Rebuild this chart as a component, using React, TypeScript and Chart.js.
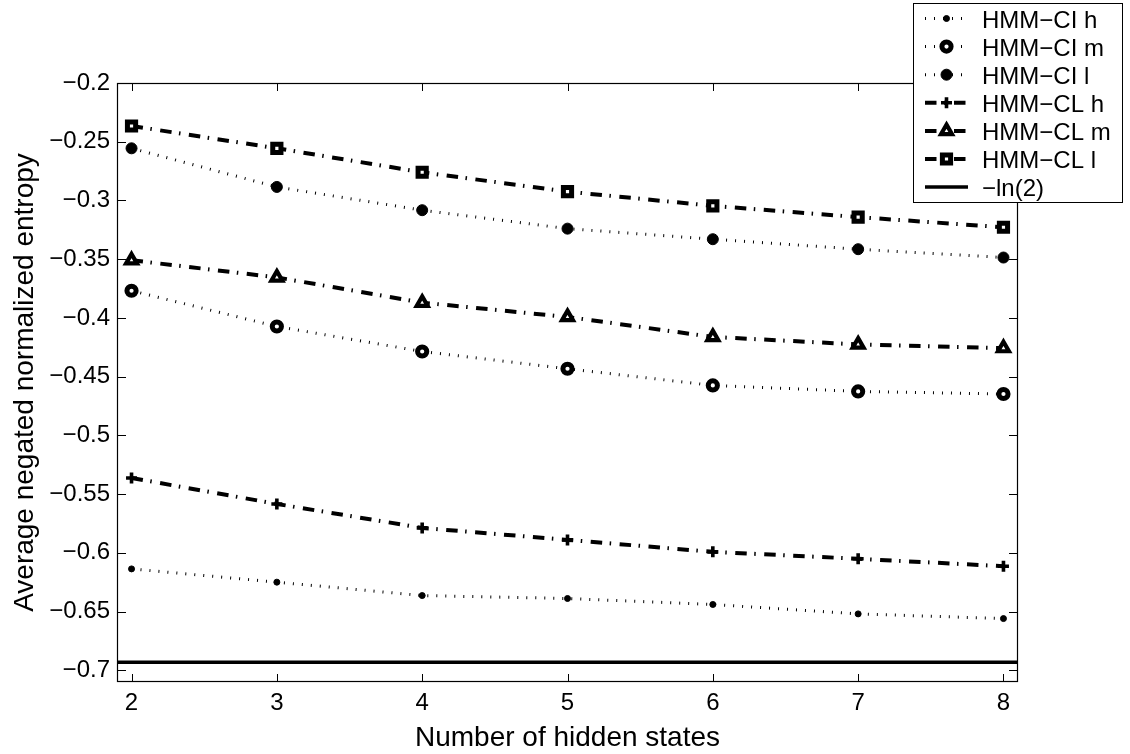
import React, { useEffect, useRef } from 'react';
import { Chart, registerables, PointElement } from 'chart.js';

Chart.register(...registerables);

// ---- data ----
const xStates = [2, 3, 4, 5, 6, 7, 8];
const ciH = [-0.6137, -0.625, -0.6364, -0.6389, -0.644, -0.652, -0.656];
const ciM = [-0.3769, -0.4073, -0.4286, -0.4433, -0.4575, -0.4626, -0.4648];
const ciL = [-0.2556, -0.2885, -0.3083, -0.324, -0.333, -0.3415, -0.3486];
const clH = [-0.5363, -0.5584, -0.5788, -0.589, -0.5992, -0.6051, -0.6114];
const clM = [-0.3509, -0.3655, -0.387, -0.3992, -0.4162, -0.4226, -0.4257];
const clL = [-0.2366, -0.2556, -0.276, -0.2925, -0.3046, -0.3142, -0.3228];
const lnTwo = -0.6931;
const xTicks = [2, 3, 4, 5, 6, 7, 8];
const yTicks = [-0.7, -0.65, -0.6, -0.55, -0.5, -0.45, -0.4, -0.35, -0.3, -0.25, -0.2];
const xRange = [1.9, 8.1];
const yRange = [-0.71, -0.2];
const seriesLabels = ['HMM\u2212CI h', 'HMM\u2212CI m', 'HMM\u2212CI l', 'HMM\u2212CL h', 'HMM\u2212CL m', 'HMM\u2212CL l', '\u2212ln(2)'];

const FONT = '"Liberation Sans", Arial, Helvetica, sans-serif';
const DOT = [1, 8];
const DASHDOT = [11.5, 7.5, 1.5, 8.5];

const toXY = (ys: number[]) => xStates.map((x, i) => ({ x, y: ys[i] }));

const fmt = (v: number) => String(Number(v.toFixed(2))).replace('-', '\u2212');

const framePlugin = {
  id: 'frame',
  afterDatasetsDraw(chart: any) {
    const { ctx, chartArea: a, scales } = chart;
    ctx.save();
    ctx.strokeStyle = '#000';
    ctx.lineWidth = 1.2;
    ctx.setLineDash([]);
    ctx.strokeRect(a.left + 0.5, a.top + 0.5, a.right - a.left - 1, a.bottom - a.top - 1);
    ctx.lineWidth = 1;
    ctx.beginPath();
    for (const t of scales.x.ticks) {
      const px = Math.round(scales.x.getPixelForValue(t.value)) + 0.5;
      ctx.moveTo(px, a.bottom); ctx.lineTo(px, a.bottom - 8);
      ctx.moveTo(px, a.top); ctx.lineTo(px, a.top + 8);
    }
    for (const t of scales.y.ticks) {
      const py = Math.round(scales.y.getPixelForValue(t.value)) + 0.5;
      ctx.moveTo(a.left, py); ctx.lineTo(a.left + 9, py);
      ctx.moveTo(a.right, py); ctx.lineTo(a.right - 9, py);
    }
    ctx.stroke();
    ctx.restore();
  },
};

const legendPlugin = {
  id: 'matlabLegend',
  afterDraw(chart: any) {
    const { ctx } = chart;
    const bx = 913.5, by = 3.5, bw = 209, bh = 199;
    ctx.save();
    ctx.fillStyle = '#fff';
    ctx.fillRect(bx, by, bw, bh);
    ctx.strokeStyle = '#000';
    ctx.lineWidth = 1;
    ctx.setLineDash([]);
    ctx.strokeRect(bx, by, bw, bh);
    chart.data.datasets.forEach((ds: any, i: number) => {
      const yc = 18.5 + 28.1 * i;
      ctx.save();
      ctx.strokeStyle = '#000';
      ctx.lineWidth = ds.borderWidth;
      ctx.setLineDash(ds.borderDash || []);
      ctx.beginPath();
      ctx.moveTo(925, yc);
      ctx.lineTo(968, yc);
      ctx.stroke();
      ctx.restore();
      if (ds.pointRadius > 0) {
        const pt: any = new (PointElement as any)({
          x: 946.5,
          y: yc,
          options: {
            pointStyle: ds.pointStyle,
            radius: ds.pointRadius,
            rotation: 0,
            borderWidth: ds.pointBorderWidth,
            borderColor: '#000',
            backgroundColor: ds.pointBackgroundColor,
          },
        });
        ctx.save();
        ctx.setLineDash([]);
        pt.draw(ctx, { left: 0, top: 0, right: 1130, bottom: 754 });
        ctx.restore();
      }
      ctx.fillStyle = '#000';
      ctx.font = `24px ${FONT}`;
      ctx.textBaseline = 'middle';
      ctx.textAlign = 'left';
      ctx.fillText(ds.label, 982, yc + 2.5);
    });
    ctx.restore();
  },
};

const mk = (label: string, ys: number[], dash: number[], lw: number, style: string, r: number, pbw: number, bg: string) => ({
  label,
  data: toXY(ys),
  borderColor: '#000',
  borderWidth: lw,
  borderDash: dash,
  fill: false,
  tension: 0,
  pointStyle: style,
  pointRadius: r,
  pointBorderWidth: pbw,
  pointBorderColor: '#000',
  pointBackgroundColor: bg,
});

export default function App() {
  const ref = useRef<HTMLCanvasElement>(null);
  useEffect(() => {
    if (!ref.current) return;
    const datasets: any[] = [
      mk(seriesLabels[0], ciH, DOT, 3, 'circle', 3, 1, '#000'),
      mk(seriesLabels[1], ciM, DOT, 3, 'circle', 4.6, 5, '#fff'),
      mk(seriesLabels[2], ciL, DOT, 3, 'circle', 5.5, 1, '#000'),
      mk(seriesLabels[3], clH, DASHDOT, 4, 'cross', 5.5, 3.6, '#000'),
      mk(seriesLabels[4], clM, DASHDOT, 4, 'triangle', 6.3, 4.2, '#fff'),
      mk(seriesLabels[5], clL, DASHDOT, 4, 'rect', 5.8, 5, '#fff'),
      {
        label: seriesLabels[6],
        data: [{ x: xRange[0], y: lnTwo }, { x: xRange[1], y: lnTwo }],
        borderColor: '#000',
        borderWidth: 3.5,
        borderDash: [],
        pointRadius: 0,
        fill: false,
      },
    ];
    const tickFont = { family: FONT, size: 24 };
    const chart = new Chart(ref.current, {
      type: 'line',
      data: { datasets },
      plugins: [framePlugin, legendPlugin],
      options: {
        responsive: false,
        animation: false,
        devicePixelRatio: 1,
        layout: { padding: { left: 0, top: 83, right: 112, bottom: 0 } },
        plugins: { legend: { display: false }, tooltip: { enabled: false } },
        scales: {
          x: {
            type: 'linear',
            min: xRange[0],
            max: xRange[1],
            grid: { display: false, drawTicks: false },
            border: { display: false },
            ticks: { font: tickFont, color: '#000', padding: 7, autoSkip: false, maxRotation: 0, callback: (v: any) => String(v) },
            afterBuildTicks: (s: any) => { s.ticks = xTicks.map((v) => ({ value: v })); },
            afterFit: (s: any) => { s.height = 72; },
            title: { display: true, text: 'Number of hidden states', color: '#000', font: { family: FONT, size: 28, lineHeight: 1 }, padding: { top: 0, bottom: 2 } },
          },
          y: {
            type: 'linear',
            min: yRange[0],
            max: yRange[1],
            grid: { display: false, drawTicks: false },
            border: { display: false },
            ticks: { font: tickFont, color: '#000', padding: 7, autoSkip: false, callback: (v: any) => fmt(Number(v)) },
            afterBuildTicks: (s: any) => { s.ticks = yTicks.map((v) => ({ value: v })); },
            afterFit: (s: any) => { s.width = 117; },
            title: { display: true, text: 'Average negated normalized entropy', color: '#000', font: { family: FONT, size: 28, lineHeight: 1 }, padding: { top: 11, bottom: 0 } },
          },
        },
      } as any,
    });
    return () => chart.destroy();
  }, []);
  return (
    <div style={{ position: 'absolute', left: 0, top: 0, width: 1130, height: 754, background: '#fff' }}>
      <canvas ref={ref} width={1130} height={754} style={{ display: 'block' }} />
    </div>
  );
}
